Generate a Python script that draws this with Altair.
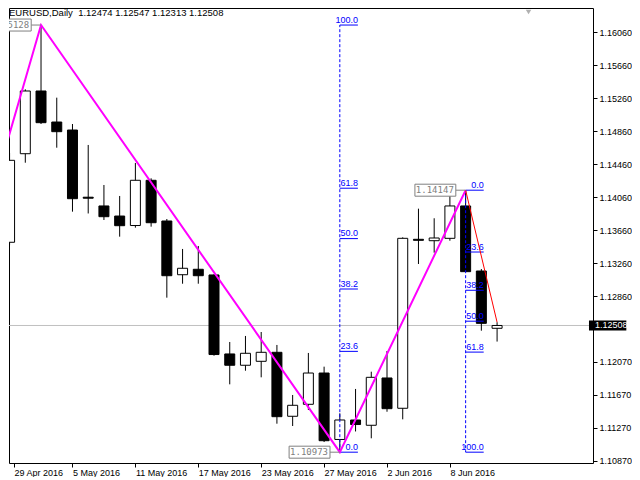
import altair as alt
import pandas as pd

# ---------------- data ----------------
dates = ["29 Apr 2016", "2 May 2016", "3 May 2016", "4 May 2016", "5 May 2016",
         "6 May 2016", "9 May 2016", "10 May 2016", "11 May 2016", "12 May 2016",
         "13 May 2016", "16 May 2016", "17 May 2016", "18 May 2016", "19 May 2016",
         "20 May 2016", "23 May 2016", "24 May 2016", "25 May 2016", "26 May 2016",
         "27 May 2016", "30 May 2016", "31 May 2016", "1 Jun 2016", "2 Jun 2016",
         "3 Jun 2016", "6 Jun 2016", "7 Jun 2016", "8 Jun 2016", "9 Jun 2016",
         "10 Jun 2016", "13 Jun 2016"]
opens = [1.13516, 1.14589, 1.15349, 1.14973, 1.14876, 1.14062, 1.13956, 1.13834,
         1.13719, 1.14267, 1.13774, 1.13123, 1.13189, 1.13120, 1.12163, 1.12026,
         1.12074, 1.12183, 1.11408, 1.11553, 1.11932, 1.11127, 1.11363, 1.11299,
         1.11872, 1.11505, 1.13552, 1.13535, 1.13564, 1.13956, 1.13168, 1.12474]
highs = [1.14598, 1.15369, 1.16148, 1.15268, 1.14949, 1.14695, 1.14210, 1.14077,
         1.14477, 1.14291, 1.13798, 1.13435, 1.13471, 1.13128, 1.12308, 1.12381,
         1.12429, 1.12272, 1.11666, 1.12175, 1.12009, 1.11444, 1.11739, 1.11948,
         1.12199, 1.13576, 1.13923, 1.13807, 1.14077, 1.14147, 1.13192, 1.12547]
lows = [1.13480, 1.14480, 1.14949, 1.14662, 1.13887, 1.13865, 1.13786, 1.13584,
        1.13693, 1.13705, 1.12845, 1.13014, 1.13014, 1.12142, 1.11795, 1.11960,
        1.11880, 1.11318, 1.11290, 1.11484, 1.11096, 1.10973, 1.11224, 1.11141,
        1.11463, 1.11371, 1.13253, 1.13390, 1.13535, 1.13155, 1.12445, 1.12313]
closes = [1.14509, 1.15349, 1.14965, 1.14856, 1.14044, 1.14050, 1.13826, 1.13717,
          1.14267, 1.13753, 1.13111, 1.13201, 1.13111, 1.12156, 1.12026, 1.12171,
          1.12183, 1.11403, 1.11541, 1.11932, 1.11112, 1.11363, 1.11308, 1.11880,
          1.11500, 1.13564, 1.13540, 1.13568, 1.13956, 1.13160, 1.12534, 1.12508]

zigzag_idx = [-4, 2, 21, 29]
zigzag_price = [1.12203, 1.16148, 1.10973, 1.14147]
leg_idx = [29, 31]
leg_price = [1.14147, 1.12547]

fib_levels = [0.0, 23.6, 38.2, 50.0, 61.8, 100.0]
fib_anchor = [21, 29]
fib_p0 = [1.10973, 1.14147]
fib_p100 = [1.16148, 1.10973]

label_idx = [2, 21, 29]
label_price = [1.16148, 1.10973, 1.14147]
label_text = ["5128", "1.10973", "1.14147"]

y_ticks = [1.16060, 1.15660, 1.15260, 1.14860, 1.14460, 1.14060, 1.13660,
           1.13260, 1.12860, 1.12070, 1.11670, 1.11270, 1.10870]
last_price = 1.12508
shift_marker_idx = [33]
header = "EURUSD,Daily \u00a01.12474 1.12547 1.12313 1.12508"

# ---------------- layout ----------------
W, H = 584, 455
BAR_PX = 16
x_lo = 0.28125
x_hi = x_lo + W / BAR_PX
y_lo, y_hi = 1.108419, 1.163544
PXU = H / (y_hi - y_lo)
FONT = "Liberation Sans"
BLUE = "#0000ff"

xs = alt.Scale(domain=[x_lo, x_hi], nice=False, zero=False)
ys = alt.Scale(domain=[y_lo, y_hi], nice=False, zero=False)

label_arr = "[" + ",".join("'" + d + "'" for d in dates) + "]"
x_axis = alt.Axis(values=[x_lo] + list(range(4, len(dates), 4)),
                  labelExpr=label_arr + "[round(datum.value)]",
                  labelAlign="left", tickSize=4, labelPadding=1,
                  labelFlush=False, labelOverlap=False, domain=False, grid=False,
                  title=None, labelFont=FONT, labelFontSize=9, labelColor="black",
                  tickColor="black")
y_axis = alt.Axis(orient="right", values=y_ticks, format=".5f", tickSize=4,
                  labelPadding=2, labelFlush=False, labelOverlap=False,
                  domain=False, grid=False, title=None, labelFont=FONT,
                  labelFontSize=9, labelColor="black", tickColor="black")


def X(f):
    return alt.X(f, type="quantitative", scale=xs, axis=x_axis)


def Y(f):
    return alt.Y(f, type="quantitative", scale=ys, axis=y_axis)


candles = pd.DataFrame({"i": list(range(len(dates))), "o": opens, "h": highs,
                        "l": lows, "c": closes})

rows = []
for k in range(len(fib_anchor)):
    for lv in fib_levels:
        rows.append({"i": fib_anchor[k],
                     "p": fib_p0[k] + lv / 100.0 * (fib_p100[k] - fib_p0[k]),
                     "t": f"{lv:.1f}"})
fib = pd.DataFrame(rows)
fib_v = pd.DataFrame({"i": fib_anchor, "p0": fib_p0, "p100": fib_p100})

zz = pd.DataFrame({"i": zigzag_idx, "p": zigzag_price})
leg = pd.DataFrame({"i": leg_idx, "p": leg_price})
labels = pd.DataFrame({"i": label_idx, "p": label_price, "t": label_text})
cur = pd.DataFrame({"p": [last_price], "t": [f"{last_price:.5f}"]})
head = pd.DataFrame({"t": [header]})
shift = pd.DataFrame({"i": shift_marker_idx})

price_line = alt.Chart(cur).mark_rule(color="#c0c0c0", strokeWidth=1).encode(y=Y("p"))

wicks = alt.Chart(candles).mark_rule(color="black", strokeWidth=1, clip=True).encode(
    x=X("i"), y=Y("l"), y2="h")
bodies = alt.Chart(candles).mark_bar(size=10, stroke="black", strokeWidth=1, clip=True).encode(
    x=X("i"), y=Y("o"), y2="c",
    fill=alt.condition("datum.c > datum.o", alt.value("white"), alt.value("black")))

fib_vert = alt.Chart(fib_v).mark_rule(color=BLUE, strokeWidth=1, strokeDash=[3, 2], clip=True).encode(
    x=X("i"), y=Y("p0"), y2="p100")
fib_lines = alt.Chart(fib).transform_calculate(e="datum.i + 1.15").mark_rule(
    color=BLUE, strokeWidth=1, clip=True).encode(x=X("i"), x2="e", y=Y("p"))
fib_text = alt.Chart(fib).transform_calculate(e="datum.i + 1.15").mark_text(
    color=BLUE, font=FONT, fontSize=9, align="right", baseline="alphabetic", dy=-2.5,
    clip=True).encode(x=X("e"), y=Y("p"), text="t:N")

zig = alt.Chart(zz).mark_line(color="#ff00ff", strokeWidth=2, clip=True).encode(
    x=X("i"), y=Y("p"), order="i:Q")
red_leg = alt.Chart(leg).mark_line(color="#ff0000", strokeWidth=1, clip=True).encode(
    x=X("i"), y=Y("p"), order="i:Q")

lab_base = alt.Chart(labels).transform_calculate(
    xr=f"datum.i - 10/{BAR_PX}", xl=f"datum.i - 51.6/{BAR_PX}",
    yt=f"datum.p + 6/{PXU}", yb=f"datum.p - 6/{PXU}")
lab_conn = lab_base.mark_rule(color="#808080", strokeWidth=1, clip=True).encode(
    x=X("xr"), x2="i", y=Y("p"))
lab_box = lab_base.mark_rect(fill="white", stroke="#808080", strokeWidth=1, clip=True).encode(
    x=X("xl"), x2="xr", y=Y("yb"), y2="yt")
lab_txt = lab_base.mark_text(color="#808080", font="DejaVu Sans Mono", fontSize=9,
                             align="right", baseline="middle", dx=-2, clip=True).encode(
    x=X("xr"), y=Y("p"), text="t:N")

cur_base = alt.Chart(cur).transform_calculate(
    x1=f"{x_hi} + 1/{BAR_PX}", x2=f"{x_hi} + 39/{BAR_PX}",
    yt=f"datum.p + 5/{PXU}", yb=f"datum.p - 5/{PXU}")
cur_box = cur_base.mark_rect(fill="black").encode(x=X("x1"), x2="x2", y=Y("yb"), y2="yt")
cur_txt = cur_base.mark_text(color="white", font=FONT, fontSize=9, align="left",
                             baseline="middle", dx=6).encode(x=X("x1"), y=Y("p"), text="t:N")

head_txt = alt.Chart(head).mark_text(color="black", font=FONT, fontSize=9.5, align="left",
                                     baseline="top", clip=True).encode(
    x=alt.value(0), y=alt.value(0), text="t:N")

shift_mark = alt.Chart(shift).mark_point(shape="triangle-down", filled=True, color="#b0b0b0",
                                         opacity=1, size=30, clip=True).encode(
    x=X("i"), y=alt.value(4))

chart = alt.layer(price_line, wicks, bodies, fib_vert, fib_lines, fib_text, zig, red_leg,
                  lab_conn, lab_box, lab_txt, cur_box, cur_txt, head_txt, shift_mark).properties(
    width=W, height=H, padding=0, background="white"
).configure_view(stroke="black", strokeWidth=1, fill="white")

chart.save("out.html", embed_options={"renderer": "svg", "actions": False})
